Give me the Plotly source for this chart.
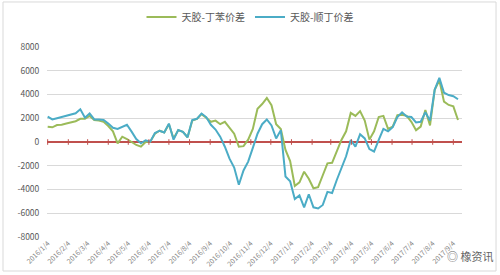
import pandas as pd
import plotly.graph_objects as go

# weekly observation dates
dates = pd.date_range("2016-01-04", periods=89, freq="7D")

# 天胶-丁苯价差
spread_sbr = [1290, 1240, 1430, 1450, 1560, 1650, 1750, 1950, 1950, 2200,
              1850, 1800, 1700, 1350, 900, -110, 450, 250, 30, -250,
              -390, 0, 30, 700, 950, 800, 1500, 300, 1000, 850,
              400, 1800, 1950, 2350, 2050, 1700, 1800, 1500, 1700, 1200,
              700, -400, -350, 200, 1100, 2800, 3200, 3700, 3100, 1500,
              1100, -670, -1600, -3700, -3400, -2500, -3100, -3900, -3800, -2800,
              -1800, -1750, -800, 170, 900, 2450, 2200, 2600, 1800, 200,
              900, 2100, 2200, 1100, 1300, 2250, 2300, 2200, 1700, 1000,
              1300, 2700, 1400, 4400, 5200, 3400, 3120, 3000, 1850]

# 天胶-顺丁价差
spread_br = [2130, 1900, 2000, 2100, 2180, 2280, 2420, 2750, 2050, 2400,
             1900, 1900, 1850, 1550, 1200, 1100, 1300, 1450, 870, 250,
             -110, 150, 30, 750, 950, 800, 1550, 200, 1000, 850,
             400, 1850, 1950, 2400, 2100, 1450, 1050, 450, -400, -1400,
             -2150, -3600, -2400, -1650, -500, 700, 1500, 1900, 1400, 300,
             1000, -2900, -3300, -4800, -4500, -5500, -4400, -5500, -5600, -5300,
             -4200, -4300, -3200, -2200, -1200, 170, -390, 650, 300, -600,
             -800, 170, 1100, 900, 1250, 2100, 2500, 2150, 2100, 1650,
             1700, 2500, 1800, 4400, 5400, 4150, 3950, 3850, 3600]

tick_dates = ["2016-01-04", "2016-02-04", "2016-03-04", "2016-04-04", "2016-05-04",
              "2016-06-04", "2016-07-04", "2016-08-04", "2016-09-04", "2016-10-04",
              "2016-11-04", "2016-12-04", "2017-01-04", "2017-02-04", "2017-03-04",
              "2017-04-04", "2017-05-04", "2017-06-04", "2017-07-04", "2017-08-04",
              "2017-09-04"]
tick_text = ["2016/1/4", "2016/2/4", "2016/3/4", "2016/4/4", "2016/5/4",
             "2016/6/4", "2016/7/4", "2016/8/4", "2016/9/4", "2016/10/4",
             "2016/11/4", "2016/12/4", "2017/1/4", "2017/2/4", "2017/3/4",
             "2017/4/4", "2017/5/4", "2017/6/4", "2017/7/4", "2017/8/4",
             "2017/9/4"]
y_ticks = [-8000, -6000, -4000, -2000, 0, 2000, 4000, 6000, 8000]

fig = go.Figure()
fig.add_trace(go.Scatter(x=dates, y=spread_sbr, mode="lines", name="天胶-丁苯价差",
                         line=dict(color="#9bbb59", width=2)))
fig.add_trace(go.Scatter(x=dates, y=spread_br, mode="lines", name="天胶-顺丁价差",
                         line=dict(color="#4bacc6", width=2)))
# tick marks on the zero axis
fig.add_trace(go.Scatter(x=tick_dates, y=[0] * len(tick_dates), mode="markers",
                         marker=dict(symbol="line-ns-open", size=4, color="#c0504d",
                                     line=dict(color="#c0504d", width=1)),
                         showlegend=False, hoverinfo="skip"))

font_family = "Noto Sans CJK SC, Liberation Sans, Arial, sans-serif"

fig.update_layout(
    width=500, height=275,
    margin=dict(l=47, r=38, t=47, b=38),
    paper_bgcolor="white", plot_bgcolor="white",
    font=dict(family=font_family, color="#595959", size=9),
    legend=dict(orientation="h", xref="container", yref="container",
                x=0.5, xanchor="center", y=0.938, yanchor="middle",
                font=dict(size=10, color="#595959"), itemwidth=30,
                bgcolor="rgba(0,0,0,0)"),
    xaxis=dict(type="date", range=["2016-01-03", "2017-09-17"],
               tickmode="array", tickvals=tick_dates, ticktext=tick_text,
               tickangle=-45, ticklabeloverflow="allow", automargin=False,
               showgrid=False, zeroline=False, showline=False,
               tickfont=dict(size=7, color="#808080")),
    yaxis=dict(range=[-8000, 8000], tickvals=y_ticks, automargin=False,
               ticktext=[str(v) for v in y_ticks],
               showgrid=True, gridcolor="#d9d9d9", gridwidth=1,
               zeroline=True, zerolinecolor="#c0504d", zerolinewidth=1.5,
               showline=False, tickfont=dict(size=8.5, color="#595959"),
               ticks="outside", ticklen=5, tickcolor="rgba(0,0,0,0)"),
    shapes=[dict(type="rect", xref="paper", yref="paper",
                 x0=-0.106, x1=1.082, y0=-0.179, y1=1.237,
                 line=dict(color="#d9d9d9", width=1))],
    annotations=[dict(text="◎ 橡资讯", xref="paper", yref="paper",
                      x=1.08, y=-0.1, xanchor="right", yanchor="middle",
                      showarrow=False, font=dict(size=11, color="#666666"))],
)

fig.write_html("out.html")
